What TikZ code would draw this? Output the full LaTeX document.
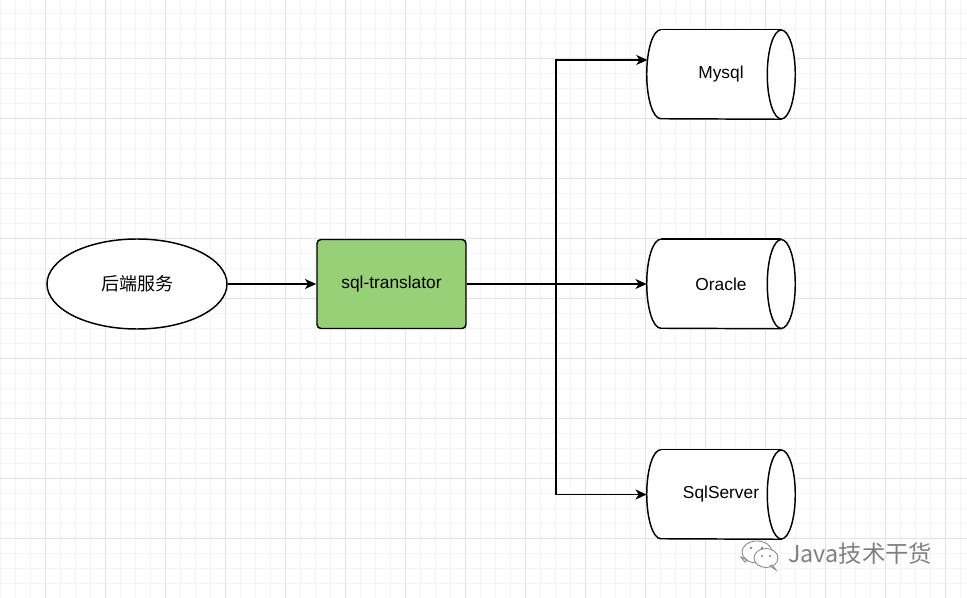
\documentclass[tikz,border=0pt]{standalone}
\usepackage{fontspec}
\setmainfont{Liberation Sans}
\newfontfamily\cjk{Noto Sans CJK SC}
\usetikzlibrary{shapes.geometric,arrows.meta,calc}
\definecolor{gridminor}{HTML}{F4F4F4}
\definecolor{gridmajor}{HTML}{E2E2E2}
\definecolor{boxgreen}{HTML}{97D077}
\definecolor{wmgray}{HTML}{808080}
\tikzset{
  minorline/.style={draw=gridminor, line width=0.75pt},
  majorline/.style={draw=gridmajor, line width=0.75pt},
  shapeline/.style={draw=black, line width=1.1pt},
  ellnode/.style={ellipse, shapeline, fill=white, minimum width=135pt, minimum height=67.5pt, inner sep=0pt, font=\cjk\fontsize{13.5pt}{16pt}\selectfont},
  greenbox/.style={rectangle, rounded corners=3pt, shapeline, fill=boxgreen, minimum width=111.75pt, minimum height=66.75pt, inner sep=0pt, font=\fontsize{13pt}{15pt}\selectfont},
  cylbox/.style={rectangle, draw=none, minimum width=111pt, minimum height=66.75pt, inner sep=0pt, font=\fontsize{13pt}{15pt}\selectfont},
  conn/.style={line width=1.2pt, draw=black, -{Stealth[length=8.5pt, width=7.5pt, inset=2.5pt]}},
}
\newcommand{\cylshape}[1]{%
  \fill[white] ($(#1.north west)+(10.5pt,0)$) -- ($(#1.north east)+(-10.5pt,0)$) -- ($(#1.south east)+(-10.5pt,0)$) -- ($(#1.south west)+(10.5pt,0)$) -- cycle;
  \fill[white] ($(#1.west)+(10.5pt,0)$) ellipse [x radius=10.5pt, y radius=33.375pt];
  \draw[shapeline] ($(#1.north west)+(10.5pt,0)$) arc[start angle=90, end angle=270, x radius=10.5pt, y radius=33.375pt]
     -- ($(#1.south east)+(-10.5pt,0)$);
  \draw[shapeline] ($(#1.north west)+(10.5pt,0)$) -- ($(#1.north east)+(-10.5pt,0)$);
  \draw[shapeline, fill=white] ($(#1.east)+(-10.5pt,0)$) ellipse [x radius=10.5pt, y radius=33.375pt];
}
\begin{document}
\begin{tikzpicture}[x=0.75pt,y=-0.75pt]
\useasboundingbox (0,0) rectangle (967,598);
\fill[white] (0,0) rectangle (967,598);
% grid
\foreach \x in {0,15,...,965} \draw[minorline] (\x,0) -- (\x,598);
\foreach \y in {13.3,28.3,...,598} \draw[minorline] (0,\y) -- (967,\y);
\foreach \x in {45,105,...,965} \draw[majorline] (\x,0) -- (\x,598);
\foreach \y in {58.3,118.3,...,598} \draw[majorline] (0,\y) -- (967,\y);

% nodes
\node[ellnode] (svc) at (137,284) {后端服务};
\node[greenbox] (tr) at (391.5,284) {sql-translator};
\node[cylbox] (my) at (721,74.5) {};
\node[cylbox] (or) at (721,284) {};
\node[cylbox] (ss) at (721,494.5) {};
\cylshape{my}
\cylshape{or}
\cylshape{ss}
\node[font=\fontsize{13pt}{15pt}\selectfont] (myl) at (721,74.5) {Mysql};
\node[font=\fontsize{13pt}{15pt}\selectfont] (orl) at (721,284) {Oracle};
\node[font=\fontsize{13pt}{15pt}\selectfont] (ssl) at (721,494.5) {SqlServer};

% connectors
\coordinate (j) at (556,284);
\draw[conn] (svc.east) -- (tr.west);
\draw[conn] (tr.east) -- (or.west);
\draw[conn] (j) |- ([yshift=10.9pt,xshift=0.6pt]my.west);
\draw[conn] (j) |- (ss.west);

% watermark
\begin{scope}[draw=wmgray, line width=0.6pt]
  \draw[fill=white] (757,552) ellipse [x radius=15, y radius=11];
  \draw[fill=white] (741,557) -- (745,562) -- (747,560) -- cycle;
  \draw[fill=white] (766,558) ellipse [x radius=12, y radius=9.5];
  \draw[fill=white] (772,565) -- (776,570) -- (770,566) -- cycle;
  \fill[wmgray] (751,548) circle (1.3) (762,548) circle (1.3) (762,556) circle (1.2) (770,556) circle (1.2);
\end{scope}
\node[anchor=west, text=wmgray, inner sep=0pt, font=\cjk\fontsize{17.5pt}{20pt}\selectfont] (wm) at (788,554) {Java技术干货};
\end{tikzpicture}
\end{document}
